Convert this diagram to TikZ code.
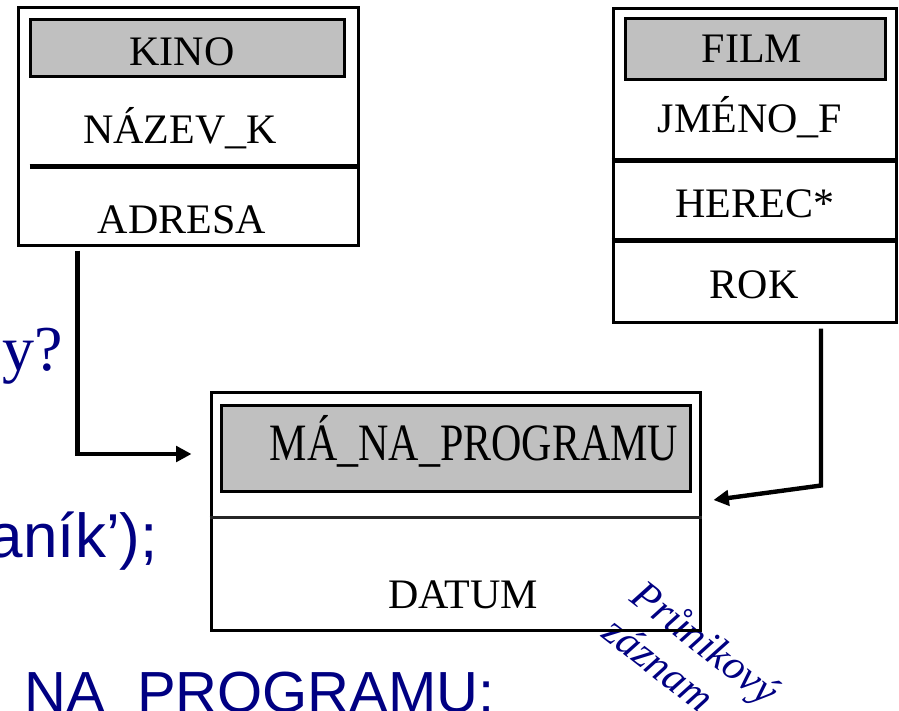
\documentclass[tikz,border=0pt]{standalone}
\usepackage{fontspec}
\setmainfont{Liberation Serif}
\newfontfamily\arialfont{Liberation Sans}
\newfontfamily\timesfont{Liberation Serif}
\usetikzlibrary{arrows.meta,calc}
\definecolor{slideblue}{RGB}{0,0,130}
\definecolor{headgray}{RGB}{192,192,192}
\begin{document}
\begin{tikzpicture}[x=0.75pt,y=-0.75pt,
  entity/.style={draw, line width=2.25pt, inner sep=0pt},
  header/.style={draw, line width=2.25pt, fill=headgray, inner sep=0pt},
  attr/.style={font=\timesfont\fontsize{31.5pt}{36pt}\selectfont, anchor=base, inner sep=0pt},
  keyline/.style={line width=3.75pt},
  thinline/.style={line width=2.25pt, draw=black!85},
  link/.style={line width=3.3pt, -{Triangle[length=11.5pt,width=11.5pt]}},
  bgtext/.style={text=slideblue, inner sep=0pt}]
\useasboundingbox (0,0) rectangle (899,710);
\clip (0,0) rectangle (899,710);

% slide text lying behind the diagram
\node[bgtext, anchor=base east, font=\timesfont\fontsize{48pt}{52pt}\selectfont] (q) at (63,370) {y?};
\node[bgtext, anchor=base east, font=\arialfont\fontsize{46.5pt}{50pt}\selectfont] (cond) at (158,557) {aník’);};
\node[bgtext, anchor=base west, font=\arialfont\fontsize{43.5pt}{48pt}\selectfont] (title) at (24,712) {NA\_PROGRAMU:};

% note on the intersection record
\node[bgtext, rotate=-38, align=left, font=\timesfont\itshape\fontsize{31.5pt}{34.5pt}\selectfont] (note) at (692,660) {Průnikový\\záznam};

% entity KINO
\node[entity, minimum width=255pt, minimum height=177.75pt] (kino) at (188,126.5) {};
\node[header, minimum width=235.5pt, minimum height=42.75pt] (kinohead) at (187,48.5) {};
\node[attr] (kinoname) at (182,65) {KINO};
\node[attr] (kinokey) at (180,143) {NÁZEV\_K};
\draw[keyline] ($(kino.west)+(13,39.5)$) -- ($(kino.east)+(0,39.5)$);
\node[attr] (kinoaddr) at (182,233) {ADRESA};

% entity FILM
\node[entity, minimum width=212.25pt, minimum height=234.75pt] (film) at (754.5,165.5) {};
\node[header, minimum width=195pt, minimum height=45.75pt] (filmhead) at (755,49.5) {};
\node[attr] (filmname) at (752,63) {FILM};
\node[attr] (filmkey) at (750,132) {JMÉNO\_F};
\draw[keyline] ($(film.west)+(0,-5.5)$) -- ($(film.east)+(0,-5.5)$);
\node[attr] (filmactor) at (755,217) {HEREC*};
\draw[keyline] ($(film.west)+(0,74.5)$) -- ($(film.east)+(0,74.5)$);
\node[attr] (filmyear) at (754,298) {ROK};

% intersection entity MÁ_NA_PROGRAMU
\node[entity, minimum width=366.75pt, minimum height=178.5pt] (mnp) at (455.5,511) {};
\node[header, minimum width=351.75pt, minimum height=64.5pt] (mnphead) at (455.5,448) {};
\node[attr] (mnpname) at (474,460) {\scalebox{1}[1.25]{MÁ\_NA\_PROGRAMU}};
\draw[thinline] ($(mnp.west)+(0,6)$) -- ($(mnp.east)+(0,6)$);
\node[attr] (mnpdate) at (463,608) {DATUM};

% connectors
\coordinate (kinoout) at ($(kino.south west)+(61,4)$);
\coordinate (kinoin) at ($(mnp.west)+(-18,-57)$);
\draw[link] (kinoout) |- (kinoin);
\coordinate (filmout) at ($(film.south)+(66.5,5)$);
\coordinate (filmbend) at ($(film.south)+(66.5,162)$);
\coordinate (filmin) at ($(mnp.east)+(12,-11)$);
\draw[link] (filmout) -- (filmbend) -- (filmin);
\end{tikzpicture}
\end{document}
